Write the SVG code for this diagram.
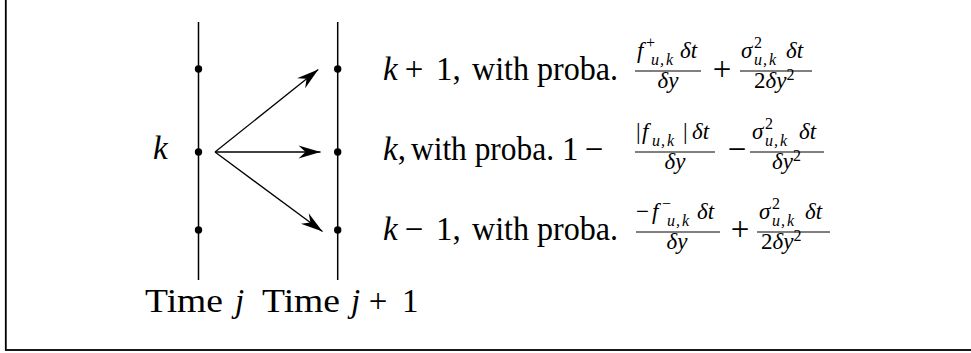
<svg xmlns="http://www.w3.org/2000/svg" width="971" height="353" viewBox="0 0 971 353">
<style>
.t{font-family:"Liberation Serif","DejaVu Serif",serif;fill:#000}
.m{font-size:33px}
.f{font-size:23px}
.s{font-size:16px}
.i{font-style:italic}
.ax{stroke:#000;stroke-width:1.5;fill:none}
.ar{stroke:#000;stroke-width:1.3;fill:none;marker-end:url(#ah)}
.bar{stroke:#000;stroke-width:1}
</style>
<defs>
<marker id="ah" viewBox="-23 -7 24 14" refX="0" refY="0" markerWidth="24" markerHeight="14" markerUnits="userSpaceOnUse" orient="auto">
<path d="M0,0 L-22,-6.5 L-15,0 L-22,6.5 Z" fill="#000"/>
</marker>
</defs>
<rect x="5.8" y="-10" width="1000" height="360" fill="none" stroke="#000" stroke-width="1.8"/>

<g id="time-j">
<line class="ax" x1="198.5" y1="22" x2="198.5" y2="280"/>
<circle cx="198.5" cy="69" r="3.7"/>
<circle cx="198.5" cy="152" r="3.7"/>
<circle cx="198.5" cy="230" r="3.7"/>
<text class="t m i" x="153" y="159">k</text>
<text class="t m" x="145" y="312" textLength="78" lengthAdjust="spacingAndGlyphs">Time</text>
<text class="t m i" x="235" y="312">j</text>
</g>

<g id="time-j1">
<line class="ax" x1="337.7" y1="22" x2="337.7" y2="280"/>
<circle cx="337.7" cy="69" r="3.7"/>
<circle cx="337.7" cy="152" r="3.7"/>
<circle cx="337.7" cy="230" r="3.7"/>
<text class="t m" x="262" y="312" textLength="78" lengthAdjust="spacingAndGlyphs">Time</text>
<text class="t m i" x="351" y="312">j</text>
<text class="t m" x="378" y="312" text-anchor="middle">+</text>
<text class="t m" x="402" y="312">1</text>
</g>

<g id="connectors">
<line class="ar" x1="215" y1="152" x2="318.3" y2="69.5"/>
<line class="ar" x1="215" y1="152" x2="320.5" y2="152"/>
<line class="ar" x1="215" y1="152" x2="322.5" y2="231.5"/>
</g>

<g id="row-up">
<text class="t m i" x="383" y="80">k</text>
<text class="t m" x="414" y="80" text-anchor="middle">+</text>
<text class="t m" x="436" y="80">1,</text>
<text class="t m" x="472" y="80" textLength="146" lengthAdjust="spacingAndGlyphs">with proba.</text>
<text class="t f i" x="637" y="58">f</text>
<text class="t s" x="646" y="48">+</text>
<text class="t s i" y="65"><tspan x="651">u</tspan><tspan x="660">,</tspan><tspan x="666">k</tspan></text>
<text class="t f i" x="680" y="58">δt</text>
<line class="bar" x1="635" y1="71" x2="701" y2="71"/>
<text class="t f i" x="668" y="88" text-anchor="middle">δy</text>
<text class="t m" x="722" y="80" text-anchor="middle">+</text>
<text class="t f i" x="741" y="58">σ</text>
<text class="t s" x="754" y="48">2</text>
<text class="t s i" y="65"><tspan x="754">u</tspan><tspan x="763">,</tspan><tspan x="769">k</tspan></text>
<text class="t f i" x="786" y="58">δt</text>
<line class="bar" x1="740" y1="71" x2="812" y2="71"/>
<text class="t f" x="754" y="88">2<tspan class="i">δy</tspan><tspan class="s" dy="-8">2</tspan></text>
</g>

<g id="row-stay">
<text class="t m" x="383" y="160"><tspan class="i">k</tspan>,</text>
<text class="t m" x="411" y="160" textLength="143" lengthAdjust="spacingAndGlyphs">with proba.</text>
<text class="t m" x="562" y="160">1</text>
<text class="t m" x="594" y="160" text-anchor="middle">−</text>
<text class="t f" x="636" y="139">|</text>
<text class="t f i" x="642" y="139">f</text>
<text class="t s i" y="146"><tspan x="652">u</tspan><tspan x="661">,</tspan><tspan x="667">k</tspan></text>
<text class="t f" x="683" y="139">|</text>
<text class="t f i" x="692" y="139">δt</text>
<line class="bar" x1="635" y1="152" x2="715" y2="152"/>
<text class="t f i" x="675" y="169" text-anchor="middle">δy</text>
<text class="t m" x="737" y="160" text-anchor="middle">−</text>
<text class="t f i" x="752" y="139">σ</text>
<text class="t s" x="765" y="129">2</text>
<text class="t s i" y="146"><tspan x="765">u</tspan><tspan x="774">,</tspan><tspan x="780">k</tspan></text>
<text class="t f i" x="799" y="139">δt</text>
<line class="bar" x1="750" y1="152" x2="824" y2="152"/>
<text class="t f i" x="772" y="169">δy<tspan class="s" font-style="normal" dy="-8">2</tspan></text>
</g>

<g id="row-down">
<text class="t m i" x="383" y="240">k</text>
<text class="t m" x="414" y="240" text-anchor="middle">−</text>
<text class="t m" x="436" y="240">1,</text>
<text class="t m" x="472" y="240" textLength="146" lengthAdjust="spacingAndGlyphs">with proba.</text>
<text class="t f" x="636" y="219">−</text>
<text class="t f i" x="652" y="219">f</text>
<text class="t s" x="662" y="209">−</text>
<text class="t s i" y="226"><tspan x="667">u</tspan><tspan x="676">,</tspan><tspan x="682">k</tspan></text>
<text class="t f i" x="697" y="219">δt</text>
<line class="bar" x1="636" y1="232" x2="720" y2="232"/>
<text class="t f i" x="677" y="249" text-anchor="middle">δy</text>
<text class="t m" x="740" y="240" text-anchor="middle">+</text>
<text class="t f i" x="759" y="219">σ</text>
<text class="t s" x="772" y="209">2</text>
<text class="t s i" y="226"><tspan x="772">u</tspan><tspan x="781">,</tspan><tspan x="787">k</tspan></text>
<text class="t f i" x="805" y="219">δt</text>
<line class="bar" x1="757" y1="232" x2="830" y2="232"/>
<text class="t f" x="761" y="249">2<tspan class="i">δy</tspan><tspan class="s" dy="-8">2</tspan></text>
</g>
</svg>
